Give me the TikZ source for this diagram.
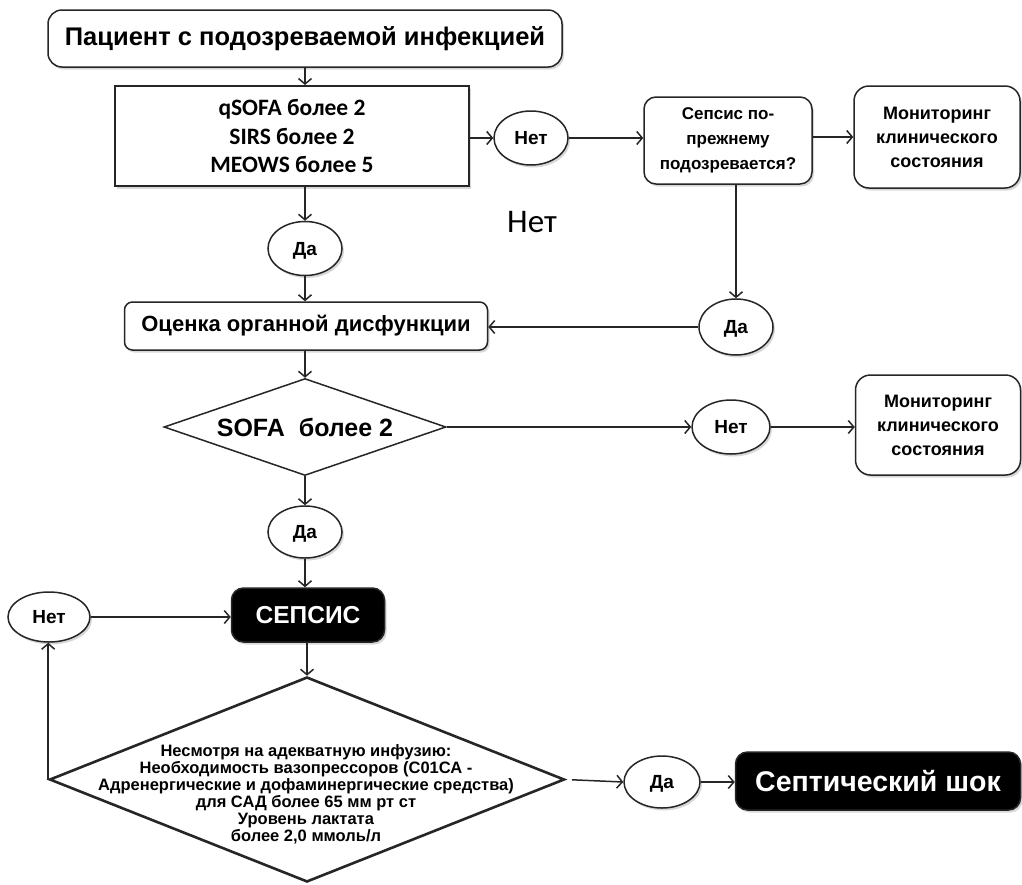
\documentclass[tikz,border=0pt]{standalone}
\usepackage{fontspec}
\setmainfont{Liberation Sans}
\newfontfamily\calib{Carlito}
\usetikzlibrary{shapes.geometric,arrows.meta,shadows}
\tikzset{
  base/.style={font=\bfseries, align=center, inner sep=0pt, line width=1.5pt, draw=black!85},
  shd/.style={drop shadow={shadow xshift=2pt, shadow yshift=-2.5pt, opacity=0.3}},
  rbox/.style={base, shd, fill=white, rectangle},
  oval/.style={base, shd, fill=white, ellipse, minimum width=74, minimum height=54, text height=13.5pt, text depth=0pt, font=\bfseries\fontsize{19}{20}\selectfont},
  blk/.style={base, shd, fill=black, text=white, rectangle, rounded corners=12},
  dia/.style={base, diamond, aspect=1, fill=white},
  conn/.style={line width=1.5pt, draw=black!85, -{Straight Barb[length=5.5pt,width=13pt]}},
  mon/.style={rbox, rounded corners=15, font=\bfseries\fontsize{18}{24}\selectfont},
}
\begin{document}
\begin{tikzpicture}[x=1pt,y=-1pt]
\useasboundingbox (0,0) rectangle (1022,884);
\fill[white] (0,0) rectangle (1022,884);

% nodes
\node[rbox, rounded corners=14, minimum width=514, minimum height=57,
      font=\bfseries\fontsize{25.5}{30}\selectfont] (top) at (305,38.5) {Пациент с подозреваемой инфекцией};
\node[rbox, line width=2pt, minimum width=354, minimum height=100,
      font=\calib\bfseries\fontsize{23.5}{28.5}\selectfont] (crit) at (292,136)
      {qSOFA более 2\\SIRS более 2\\MEOWS более 5};
\node[oval] (no1) at (531,138) {Нет};
\node[rbox, rounded corners=12, minimum width=168, minimum height=87,
      font=\bfseries\fontsize{17}{25}\selectfont] (susp) at (728,140.5)
      {Сепсис по-\\прежнему\\подозревается?};
\node[mon, minimum width=166, minimum height=102] (mon1) at (937,137) {Мониторинг\\клинического\\состояния};
\node[font=\calib\fontsize{33}{36}\selectfont, inner sep=0pt] (freeno) at (532,222) {Нет};
\node[oval] (da1) at (305,248.5) {Да};
\node[oval, minimum height=56] (da2) at (736,327) {Да};
\node[rbox, rounded corners=8, minimum width=363, minimum height=48,
      font=\bfseries\fontsize{22}{26}\selectfont] (assess) at (306,326) {Оценка органной дисфункции};
\node[dia, minimum width=282, minimum height=97] (sofa) at (305,427) {};
\node[font=\bfseries\fontsize{25}{28}\selectfont, inner sep=0pt] (sofat) at (sofa.center) {SOFA\ \ более 2};
\node[oval, minimum width=78] (no2) at (731,427) {Нет};
\node[mon, minimum width=165, minimum height=100] (mon2) at (938,425) {Мониторинг\\клинического\\состояния};
\node[oval, minimum height=52] (da3) at (305,532) {Да};
\node[blk, minimum width=153, minimum height=54, font=\bfseries\fontsize{24.5}{28}\selectfont] (sepsis) at (308,615) {СЕПСИС};
\node[oval, minimum width=82, minimum height=50] (no4) at (49,617) {Нет};
\node[dia, line width=2.6pt, minimum width=515, minimum height=205] (big) at (307,779.5) {};
\node[font=\bfseries\fontsize{16.5}{17}\selectfont, align=center, inner sep=0pt] (bigt) at (306,794)
  {Несмотря на адекватную инфузию:\\Необходимость вазопрессоров (С01СА -\\Адренергические и дофаминергические средства)\\для САД более 65 мм рт ст\\Уровень лактата\\более 2,0 ммоль/л};
\node[oval, minimum width=76, minimum height=52] (da4) at (662,782) {Да};
\node[blk, minimum width=285, minimum height=58, font=\bfseries\fontsize{28.5}{32}\selectfont] (shock) at (878,781) {Септический шок};

% connectors
\draw[conn] (top.south) -- (top.south |- crit.north);
\draw[conn] (crit.east |- no1.west) -- (no1.west);
\draw[conn] (no1.east) -- (no1.east -| susp.west);
\draw[conn] (susp.east |- mon1.west) -- (mon1.west);
\draw[conn] (da2.north |- susp.south) -- (da2.north);
\draw[conn] (da2.west) -- (da2.west -| assess.east);
\draw[conn] (da1.north |- crit.south) -- (da1.north);
\draw[conn] (da1.south) -- (da1.south |- assess.north);
\draw[conn] (sofa.north |- assess.south) -- (sofa.north);
\draw[conn] (sofa.east) -- (no2.west);
\draw[conn] (no2.east) -- (no2.east -| mon2.west);
\draw[conn] (sofa.south) -- (da3.north);
\draw[conn] (da3.south) -- (da3.south |- sepsis.north);
\draw[conn] (no4.east) -- (no4.east -| sepsis.west);
\draw[conn] (big.north |- sepsis.south) -- (big.north);
\draw[conn] (big.west) -- (big.west |- no4.south);
\draw[conn, shorten <=6pt] (big.east) -- (da4.west);
\draw[conn] (da4.east) -- (da4.east -| shock.west);
\end{tikzpicture}
\end{document}
